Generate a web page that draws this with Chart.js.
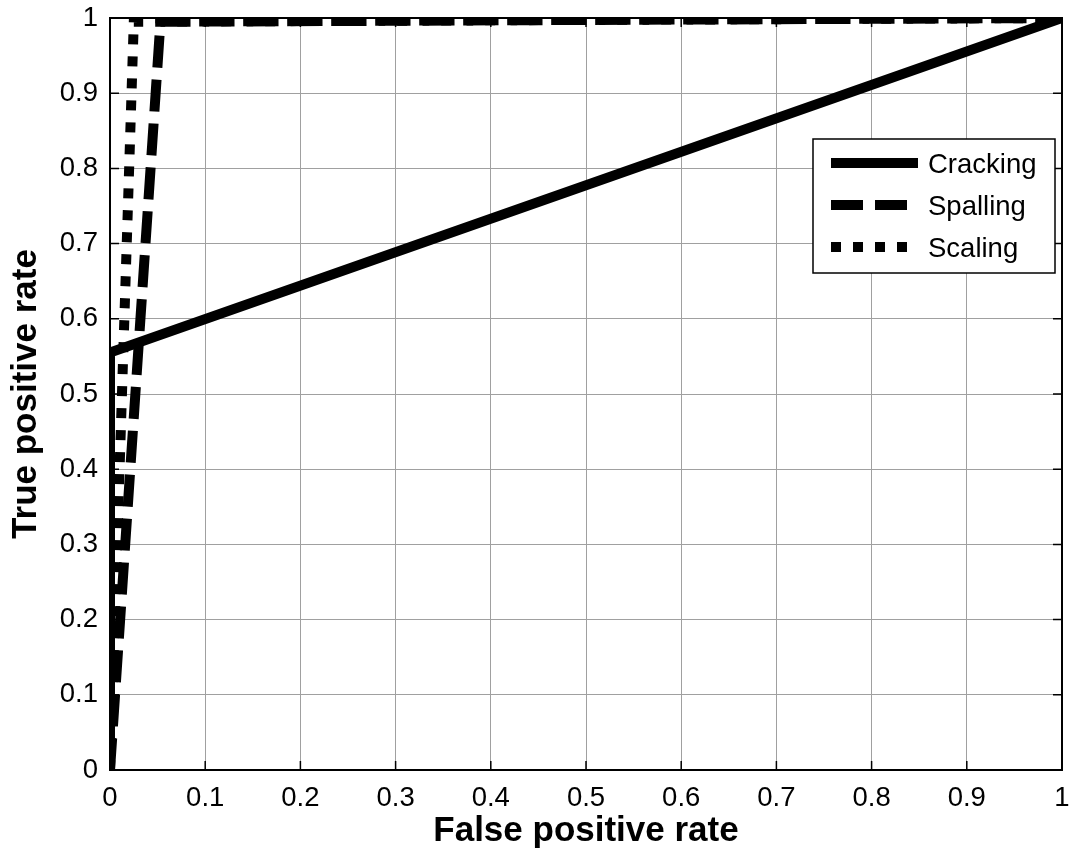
<!DOCTYPE html>
<html>
<head>
<meta charset="utf-8">
<script src="https://cdn.jsdelivr.net/npm/chart.js@4.4.1/dist/chart.umd.min.js"></script>
<style>
html, body { margin: 0; padding: 0; background: #fff; }
#wrap { width: 1074px; height: 859px; }
</style>
</head>
<body>
<div id="wrap"><canvas id="roc"></canvas></div>
<script>
// ROC curves, values
var seriesNames = ["Cracking", "Spalling", "Scaling"];
var crackingFpr = [0, 0, 1];
var crackingTpr = [0, 0.555, 1];
var spallingFpr = [0, 0.053, 1];
var spallingTpr = [0, 0.995, 1];
var scalingFpr = [0, 0.025, 1];
var scalingTpr = [0, 0.995, 1];
var xTickLabels = ["0","0.1","0.2","0.3","0.4","0.5","0.6","0.7","0.8","0.9","1"];
var yTickLabels = ["0","0.1","0.2","0.3","0.4","0.5","0.6","0.7","0.8","0.9","1"];

var FONT = "'Liberation Sans', Arial, sans-serif";

function toPoints(xs, ys) {
    return xs.map(function (v, i) { return { x: v, y: ys[i] }; });
}

function lineSet(label, xs, ys, dash) {
    return {
        label: label,
        data: toPoints(xs, ys),
        showLine: true,
        borderColor: "#000",
        backgroundColor: "#000",
        borderWidth: 10,
        borderDash: dash,
        borderCapStyle: "butt",
        borderJoinStyle: "miter",
        pointRadius: 0,
        tension: 0,
        clip: 0
    };
}

// no extra room for overflowing tick labels, the box is fixed
function noPad(scale) {
    scale.paddingTop = 0;
    scale.paddingBottom = 0;
    scale.paddingLeft = 0;
    scale.paddingRight = 0;
}

// box, inward ticks on all four sides (matlab look)
var framePlugin = {
    id: "frame",
    afterDatasetsDraw: function (chart) {
        var ctx = chart.ctx, a = chart.chartArea;
        var sx = chart.scales.x, sy = chart.scales.y;
        ctx.save();
        ctx.strokeStyle = "#000";
        ctx.lineWidth = 1.5;
        ctx.beginPath();
        sx.ticks.forEach(function (t) {
            var px = sx.getPixelForValue(t.value);
            ctx.moveTo(px, a.bottom); ctx.lineTo(px, a.bottom - 9);
            ctx.moveTo(px, a.top); ctx.lineTo(px, a.top + 9);
        });
        sy.ticks.forEach(function (t) {
            var py = sy.getPixelForValue(t.value);
            ctx.moveTo(a.left, py); ctx.lineTo(a.left + 9, py);
            ctx.moveTo(a.right, py); ctx.lineTo(a.right - 9, py);
        });
        ctx.stroke();
        ctx.lineWidth = 2;
        ctx.strokeRect(a.left, a.top, a.right - a.left, a.bottom - a.top);
        ctx.restore();
    }
};

var boxLegend = {
    id: "boxLegend",
    afterDraw: function (chart) {
        var ctx = chart.ctx;
        var bx = 813, by = 139, bw = 242, bh = 134;
        ctx.save();
        ctx.fillStyle = "#fff";
        ctx.fillRect(bx, by, bw, bh);
        ctx.strokeStyle = "#000";
        ctx.lineWidth = 1.5;
        ctx.strokeRect(bx, by, bw, bh);
        chart.data.datasets.forEach(function (ds, i) {
            var ly = by + 24 + i * 42;
            ctx.beginPath();
            ctx.setLineDash(ds.borderDash || []);
            ctx.lineCap = "butt";
            ctx.lineWidth = ds.borderWidth;
            ctx.strokeStyle = ds.borderColor;
            ctx.moveTo(bx + 18, ly);
            ctx.lineTo(bx + 105, ly);
            ctx.stroke();
            ctx.setLineDash([]);
            ctx.fillStyle = "#000";
            ctx.font = "27.5px " + FONT;
            ctx.textBaseline = "middle";
            ctx.textAlign = "left";
            ctx.fillText(ds.label, bx + 115, ly + 2);
        });
        ctx.restore();
    }
};

var ctx = document.getElementById("roc");
var chartGraph = new Chart(ctx, {
    type: "scatter",
    data: {
        datasets: [
            lineSet(seriesNames[0], crackingFpr, crackingTpr, []),
            lineSet(seriesNames[1], spallingFpr, spallingTpr, [32, 12]),
            lineSet(seriesNames[2], scalingFpr, scalingTpr, [10, 12])
        ]
    },
    options: {
        responsive: true,
        maintainAspectRatio: false,
        animation: false,
        devicePixelRatio: 1,
        layout: { padding: { top: 18, right: 12, left: 0, bottom: 0 } },
        plugins: {
            legend: { display: false },
            tooltip: { enabled: false }
        },
        scales: {
            x: {
                type: "linear",
                min: 0, max: 1,
                ticks: {
                    stepSize: 0.1,
                    color: "#000",
                    padding: 12,
                    maxRotation: 0,
                    font: { family: FONT, size: 27.5 },
                    callback: function (v, i) { return xTickLabels[i]; }
                },
                grid: { color: "#a0a0a0", lineWidth: 1, drawTicks: false },
                border: { display: false },
                title: {
                    display: true,
                    text: "False positive rate",
                    color: "#000",
                    padding: { top: 0, bottom: 7 },
                    font: { family: FONT, size: 35, weight: "bold" }
                },
                afterFit: function (scale) { scale.height = 89; noPad(scale); }
            },
            y: {
                type: "linear",
                min: 0, max: 1,
                ticks: {
                    stepSize: 0.1,
                    color: "#000",
                    padding: 12,
                    font: { family: FONT, size: 27.5 },
                    callback: function (v, i) { return yTickLabels[i]; }
                },
                grid: { color: "#a0a0a0", lineWidth: 1, drawTicks: false },
                border: { display: false },
                title: {
                    display: true,
                    text: "True positive rate",
                    color: "#000",
                    padding: { top: 5, bottom: 0 },
                    font: { family: FONT, size: 35, weight: "bold" }
                },
                afterFit: function (scale) { scale.width = 110; noPad(scale); }
            }
        }
    },
    plugins: [framePlugin, boxLegend]
});
</script>
</body>
</html>
